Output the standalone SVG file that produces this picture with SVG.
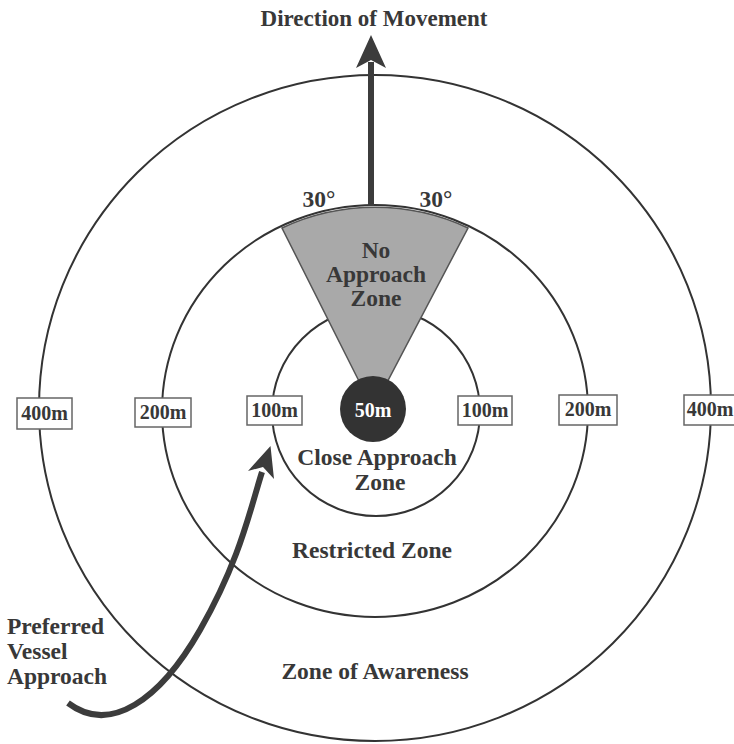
<svg xmlns="http://www.w3.org/2000/svg" width="734" height="744" viewBox="0 0 734 744">
<style>
text{font-family:"Liberation Serif","Times New Roman",serif;font-weight:bold;fill:#383838}
.t{font-size:23.5px}
.lbl{font-size:20px;text-anchor:middle}
.ring{fill:none;stroke:#333;stroke-width:2}
.box{fill:#fff;stroke:#666;stroke-width:1.5}
.shaft{fill:none;stroke:#3c3c3c;stroke-width:6;stroke-linecap:butt}
.head{fill:#3c3c3c}
</style>
<rect width="734" height="744" fill="#fff"/>
<g id="zone-awareness">
<ellipse class="ring" cx="375" cy="408" rx="336" ry="333"/>
<text class="t" x="375" y="679" text-anchor="middle">Zone of Awareness</text>
</g>
<g id="zone-restricted">
<ellipse class="ring" cx="375" cy="411" rx="213" ry="206"/>
<text class="t" x="372" y="558" text-anchor="middle">Restricted Zone</text>
</g>
<g id="zone-close">
<ellipse class="ring" cx="376" cy="412" rx="104" ry="104"/>
<text class="t" x="377" y="465" text-anchor="middle">Close Approach</text>
<text class="t" x="380" y="490" text-anchor="middle">Zone</text>
</g>
<g id="zone-no-approach">
<path d="M 373 409 L 282 228 A 213 206 0 0 1 468 228 Z" fill="#a9a9a9" stroke="#555" stroke-width="1.5"/>
<text class="t" x="376" y="258" text-anchor="middle">No</text>
<text class="t" x="376" y="282" text-anchor="middle">Approach</text>
<text class="t" x="376" y="306" text-anchor="middle">Zone</text>
<text class="t" x="319" y="207" text-anchor="middle">30°</text>
<text class="t" x="436" y="207" text-anchor="middle">30°</text>
</g>
<g id="core-50m">
<circle cx="373" cy="409" r="33" fill="#333"/>
<text class="lbl" x="373" y="417" style="fill:#fff">50m</text>
</g>
<g id="labels">
<g id="l400"><rect class="box" x="17" y="398" width="55" height="31"/><text class="lbl" x="44.5" y="420">400m</text></g>
<g id="l200"><rect class="box" x="135" y="398" width="56" height="29"/><text class="lbl" x="163" y="419">200m</text></g>
<g id="l100"><rect class="box" x="247" y="396" width="55" height="29"/><text class="lbl" x="274.5" y="417">100m</text></g>
<g id="r100"><rect class="box" x="458" y="396" width="54" height="29"/><text class="lbl" x="485" y="417">100m</text></g>
<g id="r200"><rect class="box" x="559" y="395" width="58" height="30"/><text class="lbl" x="588" y="416">200m</text></g>
<g id="r400"><rect class="box" x="684" y="395" width="52" height="30"/><text class="lbl" x="710" y="416">400m</text></g>
</g>
<g id="direction">
<text class="t" x="374" y="26" text-anchor="middle" style="font-size:23px">Direction of Movement</text>
</g>
<g id="vessel">
<text class="t" x="7" y="634">Preferred</text>
<text class="t" x="7" y="659">Vessel</text>
<text class="t" x="7" y="684">Approach</text>
</g>
<g id="connectors">
<line class="shaft" x1="371" y1="206" x2="371" y2="62"/>
<path class="head" d="M 371 35 L 386 68 L 371 60 L 356 68 Z"/>
<path class="shaft" d="M 68 703 C 110 735, 160 700, 200 630 S 250 510, 262 472"/>
<path class="head" d="M 270.5 446 L 274 479 L 263 467 L 248 471 Z"/>
</g>
</svg>
